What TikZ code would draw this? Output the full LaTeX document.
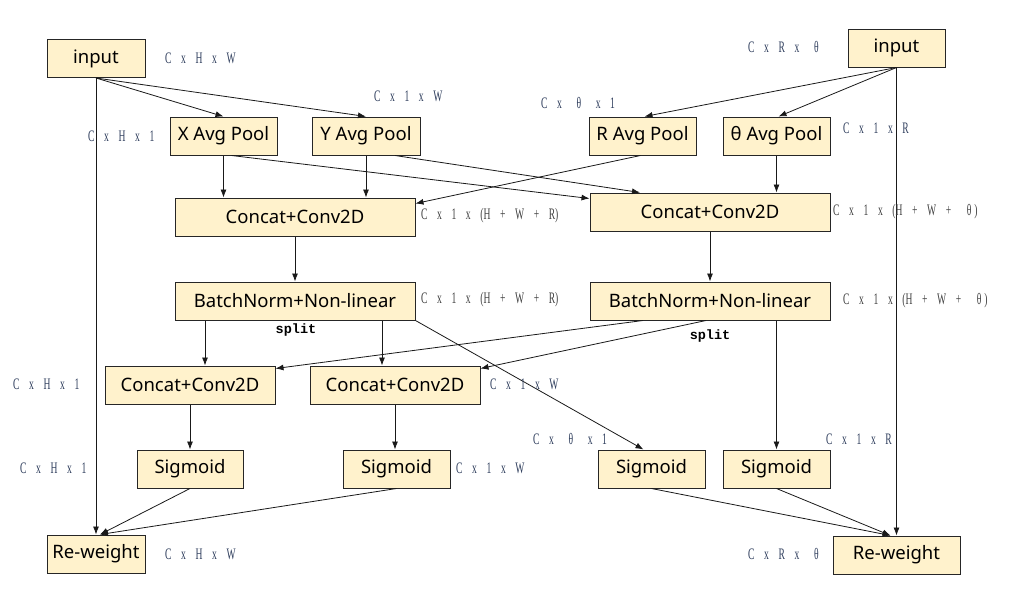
\documentclass[tikz,border=0pt]{standalone}
\usepackage{fontspec}
\setmainfont{Noto Sans}
\newfontfamily\lblfont{Liberation Serif}[FakeStretch=0.6, WordSpace=4.0]
\newfontfamily\splitfont{Liberation Mono}
\usetikzlibrary{arrows.meta,calc}
\definecolor{boxfill}{HTML}{FFF2CC}
\definecolor{lblblue}{HTML}{2E3D5C}
\definecolor{lblgray}{HTML}{404040}
\begin{document}
\begin{tikzpicture}[x=1pt,y=-1pt,
  blk/.style={draw=black!85, fill=boxfill, line width=1pt, inner sep=0pt, minimum height=38pt, font=\fontsize{18.5}{20}\selectfont},
  arr/.style={-{Latex[length=8pt,width=6pt]}, line width=0.8pt, draw=black!90},
  lbl/.style={anchor=west, inner sep=0pt, font=\lblfont\fontsize{16}{17}\selectfont, text=lblblue},
  lblg/.style={lbl, text=lblgray},
  splitlbl/.style={inner sep=0pt, font=\splitfont\bfseries\fontsize{13.5}{15}\selectfont}
]
\useasboundingbox (0,0) rectangle (1012,603);
% boxes
\node[blk, minimum width=98pt] (inL) at (96,58.5) {input};
\node[blk, minimum width=97pt] (inR) at (896.5,48) {input};
\node[blk, minimum width=107pt] (xp) at (223.5,136) {X Avg Pool};
\node[blk, minimum width=108pt] (yp) at (366,136) {Y Avg Pool};
\node[blk, minimum width=107pt] (rp) at (642.5,136) {R Avg Pool};
\node[blk, minimum width=107pt] (tp) at (776.5,136) {θ Avg Pool};
\node[blk, minimum width=240pt] (c1L) at (295,217) {Concat+Conv2D};
\node[blk, minimum width=240pt] (c1R) at (710,212) {Concat+Conv2D};
\node[blk, minimum width=240pt] (bnL) at (295,301) {BatchNorm+Non-linear};
\node[blk, minimum width=240pt] (bnR) at (710,301) {BatchNorm+Non-linear};
\node[blk, minimum width=170pt] (c2a) at (190,385) {Concat+Conv2D};
\node[blk, minimum width=170pt] (c2b) at (395,385) {Concat+Conv2D};
\node[blk, minimum width=106pt] (s1) at (190,469) {Sigmoid};
\node[blk, minimum width=107pt] (s2) at (396.5,469) {Sigmoid};
\node[blk, minimum width=107pt] (s3) at (651.5,469) {Sigmoid};
\node[blk, minimum width=107pt] (s4) at (776.5,469) {Sigmoid};
\node[blk, minimum width=98pt] (rwL) at (96,554) {Re-weight};
\node[blk, minimum width=127pt] (rwR) at (896.5,555) {Re-weight};
% connectors
\draw[arr] (inL.south) -- (xp.north);
\draw[arr] (inL.south) -- (yp.north);
\draw[arr] (inL.south) -- (rwL.north);
\draw[arr] (inR.south) -- ([xshift=2pt]rp.north);
\draw[arr] (inR.south) -- ([xshift=2pt]tp.north);
\draw[arr] (inR.south) -- (rwR.north);
\draw[arr] (xp.south) -- (xp.south |- c1L.north);
\draw[arr] (yp.south) -- (yp.south |- c1L.north);
\draw[arr] ([xshift=8pt]xp.south) -- ([yshift=-6pt]c1R.north west);
\draw[arr] ([xshift=29pt]yp.south) -- ([xshift=-70pt]c1R.north);
\draw[arr] ([xshift=-2pt]rp.south) -- ([yshift=-6pt]c1L.north east);
\draw[arr] (tp.south) -- (tp.south |- c1R.north);
\draw[arr] (c1L.south) -- (bnL.north);
\draw[arr] (c1R.south) -- (bnR.north);
\draw[arr] ([xshift=15pt]c2a.north |- bnL.south) -- ([xshift=15pt]c2a.north);
\draw[arr] ([xshift=-13pt]c2b.north |- bnL.south) -- ([xshift=-13pt]c2b.north);
\draw[arr] (bnL.south east) -- ([xshift=-8pt]s3.north);
\draw[arr] ([xshift=-67pt]bnR.south) -- ([yshift=-3pt]c2a.north east);
\draw[arr] ([xshift=-4pt]bnR.south) -- ([yshift=-3pt]c2b.north east);
\draw[arr] (s4.north |- bnR.south) -- (s4.north);
\draw[arr] (c2a.south) -- (s1.north);
\draw[arr] (c2b.south) -- (c2b.south |- s2.north);
\draw[arr] (s1.south) -- ([xshift=4pt]rwL.north);
\draw[arr] (s2.south) -- ([xshift=4pt]rwL.north);
\draw[arr] (s3.south) -- ([xshift=-6pt]rwR.north);
\draw[arr] (s4.south) -- ([xshift=-6pt]rwR.north);
% labels
\node[lbl] (l1) at (165,58) {C x H x W};
\node[lbl] (l2) at (374,96) {C x 1 x W};
\node[lbl] (l3) at (88,136) {C x H x 1};
\node[lbl] (l4) at (748,47) {C x R x\hspace{5pt} θ};
\node[lbl] (l5) at (541,103) {C x\hspace{5pt} θ\hspace{5pt} x 1};
\node[lbl] (l6) at (843,128) {C x 1 x R};
\node[lblg] (l7) at (421,216) {C x 1 x (H + W + R)};
\node[lblg] (l8) at (833,212) {C x 1 x (H + W +\hspace{6pt} θ\hspace{3pt})};
\node[lblg] (l9) at (421,300) {C x 1 x (H + W + R)};
\node[lblg] (l10) at (843,301) {C x 1 x (H + W +\hspace{6pt} θ\hspace{3pt})};
\node[splitlbl] (sp1) at (296,330) {split};
\node[splitlbl] (sp2) at (710,336) {split};
\node[lbl] (l11) at (13,384) {C x H x 1};
\node[lbl] (l12) at (490,384) {C x 1 x W};
\node[lbl] (l13) at (533,439) {C x\hspace{5pt} θ\hspace{5pt} x 1};
\node[lbl] (l14) at (826,439) {C x 1 x R};
\node[lbl] (l15) at (20,468) {C x H x 1};
\node[lbl] (l16) at (456,468) {C x 1 x W};
\node[lbl] (l17) at (165,554) {C x H x W};
\node[lbl] (l18) at (748,554) {C x R x\hspace{5pt} θ};
\end{tikzpicture}
\end{document}
